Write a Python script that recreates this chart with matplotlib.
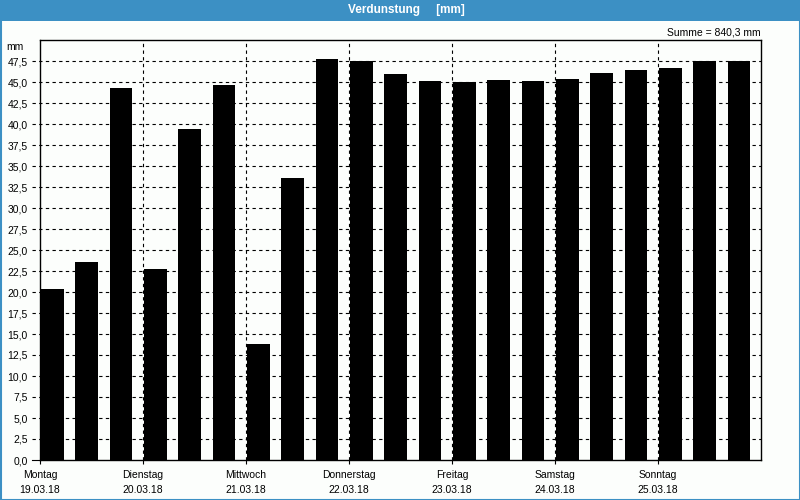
import matplotlib
matplotlib.use("Agg")
import matplotlib.pyplot as plt
from matplotlib.patches import Rectangle

days = ["Montag", "Dienstag", "Mittwoch", "Donnerstag", "Freitag", "Samstag", "Sonntag"]
dates = ["19.03.18", "20.03.18", "21.03.18", "22.03.18", "23.03.18", "24.03.18", "25.03.18"]
values = [20.4, 23.6, 44.3, 22.7, 39.4, 44.6, 13.8, 33.6, 47.7, 47.5, 45.9, 45.1,
          45.0, 45.2, 45.1, 45.4, 46.1, 46.4, 46.7, 47.5, 47.5]
yticks = [i * 2.5 for i in range(20)]
ytick_labels = [f"{v:.1f}".replace(".", ",") for v in yticks]
title = "Verdunstung     [mm]"
summe = "Summe = 840,3 mm"

FONT = ["Liberation Sans", "DejaVu Sans"]
plt.rcParams['font.family'] = FONT

BLUE = "#3c90c4"
BG = "#fcfefc"

fig = plt.figure(figsize=(8, 5), dpi=100, facecolor=BG)
fig.patches.append(Rectangle((0, 1 - 21 / 500), 1, 21 / 500, transform=fig.transFigure,
                             facecolor=BLUE, edgecolor="none", zorder=0))
fig.patches.append(Rectangle((0.5 / 800, 0.5 / 500), 1 - 1 / 800, 1 - 1 / 500, transform=fig.transFigure,
                             facecolor="none", edgecolor=BLUE, lw=1.5, zorder=1))
fig.text(406 / 800, 1 - 10.5 / 500, title, color="white", fontsize=8.5, fontweight="bold",
         ha="center", va="center")

ax = fig.add_axes([40 / 800, 1 - 460 / 500, 721 / 800, 420 / 500])
ax.set_facecolor(BG)
n = len(values)
xs = list(range(n))
ax.bar([x + 0.03 for x in xs], values, width=0.66, align="edge", color="black", zorder=3)
ax.set_xlim(0, n)
ax.set_ylim(0, 50)

dash = (0, (3, 3))
ext = -8 / 721
for y in yticks[1:]:
    ax.axhline(y, xmin=ext, xmax=1, color="black", lw=0.8, linestyle=dash, zorder=1, clip_on=False)
ax.axhline(0, xmin=ext, xmax=0, color="black", lw=0.8, zorder=1, clip_on=False)
for d in range(1, len(days)):
    ax.axvline(d * 3, color="black", lw=0.8, linestyle=dash, zorder=1)

for s in ax.spines.values():
    s.set_linewidth(1.0)
    s.set_color("black")

ax.set_yticks(yticks)
ax.set_yticklabels(ytick_labels, fontsize=7.5)
ax.tick_params(axis="y", length=0, pad=9, colors="black")
ax.set_xticks([d * 3 for d in range(len(days))])
ax.set_xticklabels([f"{a}\n{b}" for a, b in zip(days, dates)], fontsize=7.5, linespacing=1.6)
ax.tick_params(axis="x", length=3, width=0.8, pad=4.5, colors="black")

ax.text(-16 / 721, 49.2, "mm", transform=ax.get_yaxis_transform(), ha="right", va="center",
        fontsize=7.5)
ax.text(1.0, 1.006, summe, transform=ax.transAxes, ha="right", va="bottom", fontsize=7.5)

fig.savefig("out.png", dpi=100, facecolor=BG)
